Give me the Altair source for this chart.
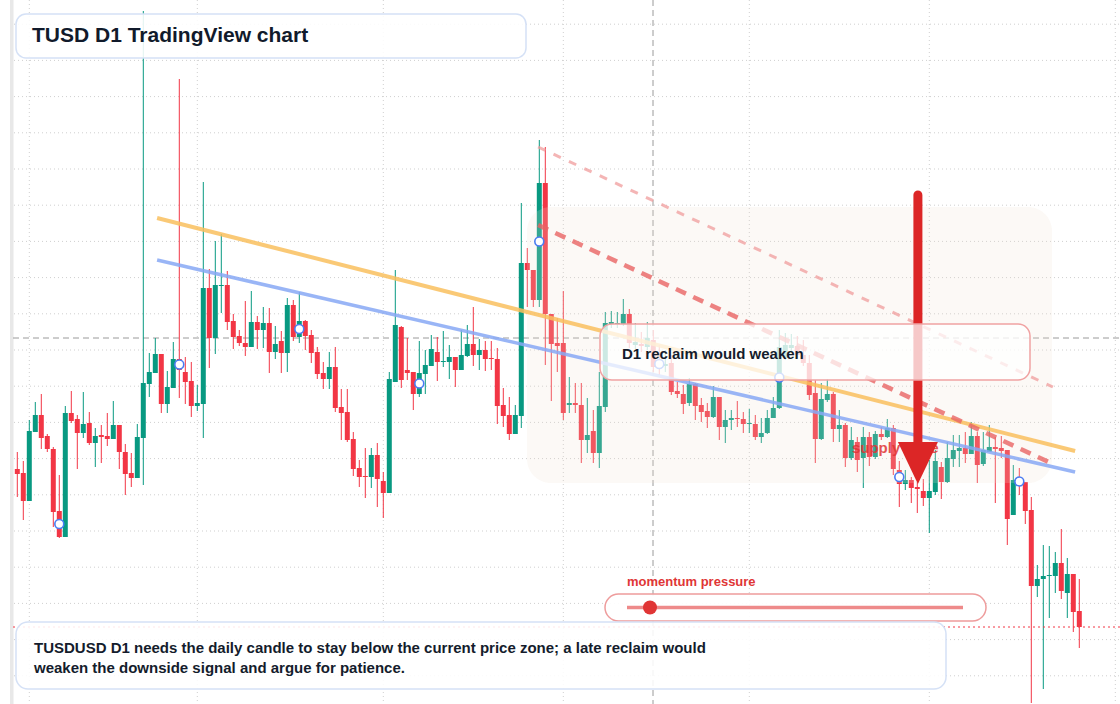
import altair as alt
import pandas as pd

# ---------------- data ----------------
open_ = [0.9931, 0.9927, 0.9899, 0.9968, 0.9985, 0.9964, 0.9951, 0.9889, 0.9863, 0.9987,
         0.9981, 0.9967, 0.9977, 0.9957, 0.9965, 0.9964, 0.9961, 0.9975, 0.9948, 0.9927,
         0.9922, 0.9962, 1.0016, 1.0027, 1.0046, 0.9996, 1.0012, 1.0041, 1.0028, 1.0019,
         0.9994, 0.9996, 1.0112, 1.0062, 1.0114, 1.0115, 1.0079, 1.0064, 1.0057, 1.0053,
         1.0078, 1.0070, 1.0077, 1.0048, 1.0059, 1.0047, 1.0095, 1.0063, 1.0079, 1.0065,
         1.0048, 1.0027, 1.0021, 1.0033, 0.9993, 0.9988, 0.9961, 0.9932, 0.9924, 0.9923,
         0.9945, 0.9919, 0.9907, 1.0018, 1.0073, 1.0030, 1.0028, 1.0006, 1.0026, 1.0034,
         1.0048, 1.0038, 1.0038, 1.0043, 1.0030, 1.0044, 1.0056, 1.0045, 1.0050, 1.0042,
         1.0041, 0.9995, 0.9985, 0.9966, 0.9984, 1.0137, 1.0130, 1.0100, 1.0217, 1.0086,
         1.0057, 1.0057, 0.9995, 0.9997, 0.9995, 0.9960, 0.9969, 0.9947, 0.9993, 1.0076,
         1.0076, 1.0076, 1.0086, 1.0055, 1.0056, 1.0053, 1.0060, 1.0040, 1.0034, 1.0037,
         1.0009, 1.0006, 0.9997, 1.0016, 0.9995, 0.9989, 0.9983, 1.0003, 0.9973, 0.9980,
         0.9982, 0.9981, 0.9976, 0.9976, 0.9963, 0.9967, 0.9982, 0.9992, 1.0042, 1.0052,
         1.0054, 1.0045, 1.0037, 1.0007, 0.9961, 1.0000, 1.0006, 0.9971, 0.9975, 0.9942,
         0.9958, 0.9942, 0.9963, 0.9943, 0.9966, 0.9963, 0.9972, 0.9930, 0.9916, 0.9920,
         0.9913, 0.9909, 0.9902, 0.9908, 0.9933, 0.9918, 0.9941, 0.9949, 0.9952, 0.9946,
         0.9964, 0.9936, 0.9948, 0.9953, 0.9952, 0.9950, 0.9885, 0.9920, 0.9918, 0.9890,
         0.9814, 0.9821, 0.9824, 0.9824, 0.9837, 0.9807, 0.9826, 0.9789]

close = [0.9926, 0.9899, 0.9969, 0.9985, 0.9962, 0.9951, 0.9888, 0.9863, 0.9987, 0.9979,
         0.9967, 0.9976, 0.9957, 0.9964, 0.9963, 0.9961, 0.9975, 0.9948, 0.9926, 0.9922,
         0.9963, 1.0017, 1.0028, 1.0046, 0.9996, 1.0013, 1.0041, 1.0030, 1.0018, 0.9994,
         0.9997, 1.0112, 1.0062, 1.0115, 1.0115, 1.0078, 1.0063, 1.0057, 1.0053, 1.0078,
         1.0070, 1.0077, 1.0048, 1.0056, 1.0047, 1.0095, 1.0063, 1.0079, 1.0064, 1.0047,
         1.0026, 1.0021, 1.0033, 0.9992, 0.9987, 0.9960, 0.9931, 0.9923, 0.9923, 0.9945,
         0.9921, 0.9907, 1.0021, 1.0075, 1.0020, 1.0027, 1.0006, 1.0027, 1.0035, 1.0051,
         1.0038, 1.0039, 1.0043, 1.0030, 1.0045, 1.0056, 1.0045, 1.0050, 1.0041, 1.0041,
         0.9994, 0.9984, 0.9966, 0.9985, 1.0137, 1.0130, 1.0100, 1.0217, 1.0086, 1.0056,
         1.0054, 0.9987, 0.9997, 0.9995, 0.9960, 0.9965, 0.9947, 0.9994, 1.0077, 1.0078,
         1.0077, 1.0086, 1.0057, 1.0058, 1.0054, 1.0062, 1.0033, 1.0032, 1.0036, 1.0008,
         1.0006, 0.9996, 1.0016, 0.9994, 0.9988, 0.9983, 1.0003, 0.9973, 0.9980, 0.9982,
         0.9981, 0.9976, 0.9977, 0.9963, 0.9967, 0.9982, 0.9992, 1.0053, 1.0055, 1.0055,
         1.0045, 1.0037, 1.0005, 0.9961, 1.0001, 1.0006, 0.9971, 0.9975, 0.9942, 0.9960,
         0.9940, 0.9963, 0.9943, 0.9966, 0.9963, 0.9972, 0.9931, 0.9916, 0.9920, 0.9912,
         0.9911, 0.9902, 0.9909, 0.9939, 0.9918, 0.9942, 0.9950, 0.9952, 0.9946, 0.9964,
         0.9935, 0.9950, 0.9953, 0.9951, 0.9949, 0.9881, 0.9920, 0.9917, 0.9889, 0.9814,
         0.9821, 0.9824, 0.9825, 0.9837, 0.9809, 0.9826, 0.9788, 0.9773]

high = [0.9948, 0.9939, 0.9980, 0.9998, 1.0006, 0.9966, 0.9953, 0.9925, 0.9994, 1.0009,
        0.9985, 1.0008, 0.9988, 0.9972, 0.9975, 0.9987, 0.9999, 0.9975, 0.9956, 0.9947,
        0.9976, 1.0389, 1.0047, 1.0062, 1.0046, 1.0029, 1.0058, 1.0321, 1.0043, 1.0038,
        1.0015, 1.0218, 1.0131, 1.0159, 1.0166, 1.0129, 1.0086, 1.0070, 1.0099, 1.0109,
        1.0084, 1.0093, 1.0092, 1.0074, 1.0069, 1.0102, 1.0100, 1.0108, 1.0080, 1.0070,
        1.0053, 1.0038, 1.0048, 1.0053, 1.0011, 1.0011, 0.9968, 0.9940, 0.9952, 0.9952,
        0.9957, 0.9928, 1.0028, 1.0130, 1.0074, 1.0062, 1.0028, 1.0059, 1.0050, 1.0065,
        1.0063, 1.0069, 1.0055, 1.0043, 1.0070, 1.0075, 1.0093, 1.0061, 1.0059, 1.0059,
        1.0052, 1.0012, 1.0003, 0.9995, 1.0197, 1.0152, 1.0130, 1.0260, 1.0253, 1.0086,
        1.0082, 1.0109, 1.0023, 1.0017, 1.0017, 1.0002, 0.9990, 1.0028, 1.0088, 1.0089,
        1.0088, 1.0101, 1.0091, 1.0077, 1.0068, 1.0078, 1.0070, 1.0055, 1.0050, 1.0045,
        1.0018, 1.0015, 1.0022, 1.0017, 1.0002, 0.9997, 1.0014, 1.0003, 0.9990, 0.9990,
        0.9999, 0.9988, 0.9991, 0.9985, 0.9982, 0.9990, 1.0003, 1.0070, 1.0067, 1.0066,
        1.0064, 1.0060, 1.0045, 1.0020, 1.0017, 1.0021, 1.0008, 0.9990, 0.9977, 0.9973,
        0.9963, 0.9973, 0.9968, 0.9969, 0.9973, 0.9981, 0.9975, 0.9939, 0.9930, 0.9923,
        0.9918, 0.9921, 0.9940, 0.9950, 0.9938, 0.9958, 0.9965, 0.9965, 0.9968, 0.9978,
        0.9968, 0.9968, 0.9975, 0.9963, 0.9964, 0.9950, 0.9935, 0.9932, 0.9918, 0.9903,
        0.9835, 0.9855, 0.9854, 0.9848, 0.9871, 0.9842, 0.9826, 0.9821]

low = [0.9903, 0.9880, 0.9899, 0.9968, 0.9951, 0.9948, 0.9873, 0.9862, 0.9863, 0.9977,
       0.9931, 0.9962, 0.9955, 0.9933, 0.9937, 0.9954, 0.9961, 0.9931, 0.9905, 0.9913,
       0.9922, 0.9915, 1.0003, 1.0027, 0.9987, 0.9987, 1.0012, 1.0002, 0.9996, 0.9983,
       0.9989, 0.9962, 1.0032, 1.0046, 1.0087, 1.0070, 1.0051, 1.0054, 1.0044, 1.0053,
       1.0051, 1.0052, 1.0027, 1.0041, 1.0027, 1.0028, 1.0059, 1.0057, 1.0050, 1.0037,
       1.0021, 1.0011, 1.0011, 0.9988, 0.9960, 0.9958, 0.9924, 0.9913, 0.9902, 0.9912,
       0.9893, 0.9882, 0.9907, 1.0018, 1.0012, 1.0020, 0.9990, 1.0003, 1.0006, 1.0034,
       1.0019, 1.0033, 1.0021, 1.0013, 1.0030, 1.0043, 1.0034, 1.0030, 1.0029, 1.0030,
       0.9976, 0.9973, 0.9960, 0.9966, 0.9972, 1.0093, 1.0093, 1.0093, 1.0035, 0.9999,
       1.0028, 0.9980, 0.9987, 0.9987, 0.9937, 0.9947, 0.9937, 0.9932, 0.9988, 1.0072,
       1.0072, 1.0074, 1.0052, 1.0051, 1.0048, 1.0050, 1.0028, 1.0025, 1.0028, 1.0005,
       1.0002, 0.9986, 0.9994, 0.9980, 0.9978, 0.9972, 0.9982, 0.9960, 0.9957, 0.9970,
       0.9973, 0.9967, 0.9967, 0.9960, 0.9957, 0.9966, 0.9982, 0.9991, 1.0040, 1.0048,
       1.0042, 1.0034, 1.0000, 0.9937, 0.9960, 0.9998, 0.9958, 0.9958, 0.9933, 0.9940,
       0.9928, 0.9912, 0.9934, 0.9941, 0.9960, 0.9962, 0.9925, 0.9893, 0.9910, 0.9897,
       0.9887, 0.9894, 0.9867, 0.9905, 0.9901, 0.9917, 0.9933, 0.9933, 0.9937, 0.9946,
       0.9917, 0.9934, 0.9948, 0.9897, 0.9942, 0.9855, 0.9885, 0.9905, 0.9876, 0.9697,
       0.9803, 0.9711, 0.9782, 0.9807, 0.9801, 0.9782, 0.9768, 0.9752]

# horizontal grid levels and month-start columns (Feb 1 ... Aug 1)
grid_prices = [1.03758, 1.03396, 1.03034, 1.02672, 1.02310, 1.01948, 1.01586, 1.01224,
               1.00862, 1.00500, 1.00138, 0.99776, 0.99414, 0.99052, 0.98690, 0.98328,
               0.97966, 0.97604, 0.97242]
grid_days = [2, 30, 61, 91, 122, 152, 183]

# drawing objects (day index, price)
marker_days = [7, 27, 47, 67, 87, 107, 127, 147, 167]
resist_days = [23.3, 176.3]
resist_orange = [1.0182, 0.9949]
resist_blue = [1.0140, 0.9928]
dash_days = [86.8, 172.6]
dash_strong = [1.0175, 0.9936]
dash_light = [1.0253, 1.0013]
zone_days = [84.95, 172.45]
zone_prices = [1.0193, 0.9917]
arrow_day = 150.1
arrow_prices = [1.0205, 0.9950]
arrow_head_price = 0.9938
supply_day = 139.1
supply_price = 0.9952
cross_day = 105.95
cross_price = 1.0062

GREEN = "#089981"
RED = "#f23645"
FONT = "Liberation Sans"

n = len(open_)
df = pd.DataFrame({"day": list(range(n)), "open": open_, "high": high,
                   "low": low, "close": close})
df["dir"] = ["up" if c >= o else "down" for o, c in zip(df["open"], df["close"])]
df["btop"] = df[["open", "close"]].max(axis=1)
df["bbot"] = df[["open", "close"]].min(axis=1)
df.loc[(df["btop"] - df["bbot"]) < 0.0001, "bbot"] = df["btop"] - 0.0001
df["mid"] = (df["open"] + df["close"]) / 2

xs = alt.Scale(domain=[-2.883, 183.783], nice=False, zero=False, padding=0)
ys = alt.Scale(domain=[0.9696, 1.04], nice=False, zero=False, padding=0)
color = alt.Color("dir:N", scale=alt.Scale(domain=["up", "down"], range=[GREEN, RED]), legend=None)


def X(f):
    return alt.X(f"{f}:Q", scale=xs, axis=None)


def Y(f):
    return alt.Y(f"{f}:Q", scale=ys, axis=None)


one = pd.DataFrame({"k": [0]})

hgrid = alt.Chart(pd.DataFrame({"p": grid_prices})).mark_rule(
    color="#cfcfcf", strokeDash=[1, 3], strokeWidth=1
).encode(y=Y("p"), x=alt.value(14), x2=alt.value(1120))
vgrid = alt.Chart(pd.DataFrame({"d": grid_days})).mark_rule(
    color="#cfcfcf", strokeDash=[1, 3], strokeWidth=1
).encode(x=X("d"), y=alt.value(0), y2=alt.value(704))
strip = alt.Chart(one).mark_rect(color="#e8e8e8").encode(
    x=alt.value(10), x2=alt.value(13.5), y=alt.value(0), y2=alt.value(704))

cross_h = alt.Chart(pd.DataFrame({"p": [cross_price]})).mark_rule(
    color="#9a9a9a", strokeDash=[6, 4], strokeWidth=1
).encode(y=Y("p"), x=alt.value(13), x2=alt.value(1120))
cross_v = alt.Chart(pd.DataFrame({"d": [cross_day]})).mark_rule(
    color="#9a9a9a", strokeDash=[6, 4], strokeWidth=1
).encode(x=X("d"), y=alt.value(0), y2=alt.value(704))

wicks = alt.Chart(df).mark_rule(strokeWidth=1).encode(
    x=X("day"), y=Y("low"), y2=alt.Y2("high"), color=color)
bodies = alt.Chart(df).mark_bar(size=5).encode(
    x=X("day"), y=Y("btop"), y2=alt.Y2("bbot"), color=color)

zone = alt.Chart(pd.DataFrame({"d0": [zone_days[0]], "d1": [zone_days[1]],
                               "p0": [zone_prices[0]], "p1": [zone_prices[1]]})).mark_rect(
    cornerRadius=24, fill="#f2dfd0", opacity=0.2
).encode(x=X("d0"), x2=alt.X2("d1"), y=Y("p0"), y2=alt.Y2("p1"))


def seg(days, prices, **kw):
    return alt.Chart(pd.DataFrame({"d": days, "p": prices})).mark_line(**kw).encode(
        x=X("d"), y=Y("p"))


orange = seg(resist_days, resist_orange, color="#f9bf5e", strokeWidth=4, opacity=0.85)
blue = seg(resist_days, resist_blue, color="#87a8f4", strokeWidth=3.5, opacity=0.85)
dstrong = seg(dash_days, dash_strong, color="#e86464", strokeWidth=4.5,
              strokeDash=[11, 8], opacity=0.8)
dlight = seg(dash_days, dash_light, color="#f09c9c", strokeWidth=3,
             strokeDash=[8, 9], opacity=0.75)

markers = alt.Chart(df[df["day"].isin(marker_days)]).mark_point(
    shape="circle", filled=True, fill="white", stroke="#4a7cf2", strokeWidth=1.6,
    size=80, opacity=1
).encode(x=X("day"), y=Y("mid"))

last_line = alt.Chart(pd.DataFrame({"p": [close[-1]]})).mark_rule(
    color=RED, strokeDash=[2, 3], strokeWidth=1
).encode(y=Y("p"), x=alt.value(13), x2=alt.value(1120))

supply = alt.Chart(pd.DataFrame({"d": [supply_day], "p": [supply_price]})).mark_text(
    text="supply zone", align="left", baseline="middle", font=FONT, fontSize=15,
    fontWeight="bold", color="#e03434", opacity=0.85
).encode(x=X("d"), y=Y("p"))

shaft = alt.Chart(pd.DataFrame({"d": [arrow_day], "p0": [arrow_prices[0]],
                                "p1": [arrow_prices[1]]})).mark_rule(
    color="#dc2626", strokeWidth=9, strokeCap="round"
).encode(x=X("d"), y=Y("p0"), y2=alt.Y2("p1"))
head = alt.Chart(pd.DataFrame({"d": [arrow_day], "p": [arrow_head_price]})).mark_point(
    shape="M-1,-1L1,-1L0,1.1Z", filled=True, color="#dc2626", size=1600, opacity=1
).encode(x=X("d"), y=Y("p"))


def box(x0, y0, x1, y1, stroke, fop, r):
    return alt.Chart(one).mark_rect(
        cornerRadius=r, fill="white", fillOpacity=fop, stroke=stroke, strokeWidth=1.5
    ).encode(x=alt.value(x0), x2=alt.value(x1), y=alt.value(y0), y2=alt.value(y1))


def label(txt, x, y, size, col="#141c2c"):
    return alt.Chart(one).mark_text(
        text=txt, align="left", baseline="middle", font=FONT, fontSize=size,
        fontWeight="bold", color=col
    ).encode(x=alt.value(x), y=alt.value(y))


note_box = box(600, 324, 1030, 380, "#f0a2a2", 0.75, 12)
note_txt = label("D1 reclaim would weaken", 622, 354, 15)

title_box = box(16, 14, 526, 58, "#d5e1f6", 0.88, 10)
title_txt = label("TUSD D1 TradingView chart", 32, 36, 21, "#111a2b")

mom_lbl = label("momentum pressure", 627, 582, 13, "#e03636")
mom_box = box(605, 594, 986, 621, "#ee9c9c", 0.92, 13.5)
mom_track = alt.Chart(one).mark_rule(color="#ee8a8a", strokeWidth=3.5).encode(
    x=alt.value(627), x2=alt.value(963), y=alt.value(607.5))
mom_dot = alt.Chart(one).mark_point(
    shape="circle", filled=True, color="#e03535", size=196, opacity=1
).encode(x=alt.value(650), y=alt.value(607.5))

bottom_box = box(16, 622, 946, 689, "#d5e1f6", 0.88, 12)
bottom_1 = label("TUSDUSD D1 needs the daily candle to stay below the current price zone; "
                 "a late reclaim would", 34, 648, 15)
bottom_2 = label("weaken the downside signal and argue for patience.", 34, 668, 15)

chart = alt.layer(
    hgrid, vgrid, strip, cross_h, cross_v, wicks, bodies, zone,
    orange, blue, dlight, dstrong, markers, last_line, supply, shaft, head,
    note_box, note_txt, title_box, title_txt,
    mom_box, mom_track, mom_dot, mom_lbl,
    bottom_box, bottom_1, bottom_2
).properties(
    width=1120, height=704, padding=0,
    autosize=alt.AutoSizeParams(type="none"), background="white"
).configure_view(stroke=None)

chart.save("out.html", embed_options={"renderer": "svg", "actions": False})
